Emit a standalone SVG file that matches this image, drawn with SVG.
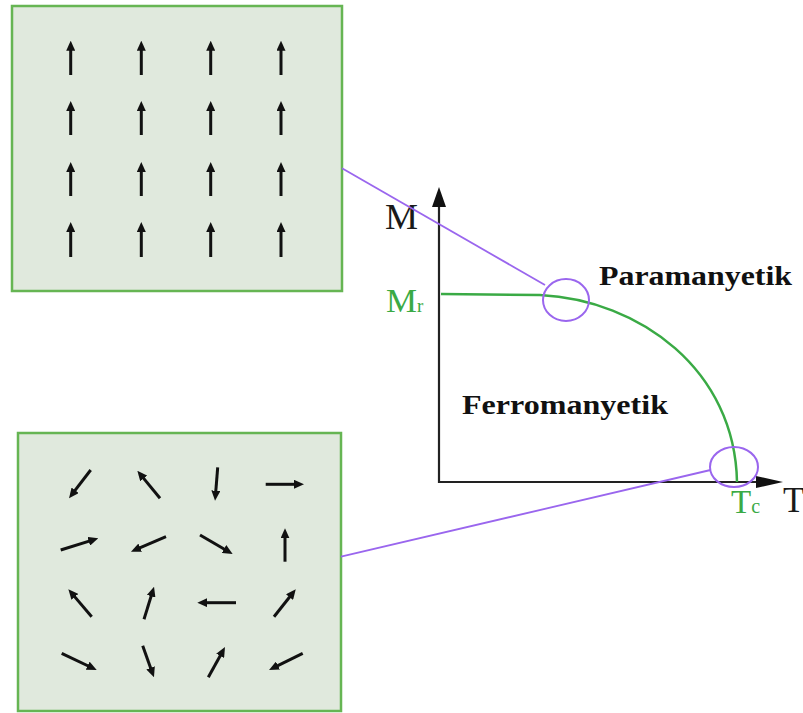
<svg xmlns="http://www.w3.org/2000/svg" width="803" height="713" viewBox="0 0 803 713">
  <style>
    .panel { fill: #e0e9dd; stroke: #66b553; stroke-width: 2.5; }
    .spin { stroke: #111; stroke-width: 3; fill: none; marker-end: url(#spinHead); }
    .axis { stroke: #222; stroke-width: 2.2; fill: none; }
    .axisHead { fill: #111; }
    .link { stroke: #9a66ee; stroke-width: 1.8; fill: none; }
    .ring { stroke: #9a66ee; stroke-width: 2; fill: none; }
    .curve { stroke: #3aaa45; stroke-width: 2.5; fill: none; }
    .axisLabel { font-family: "Liberation Serif", "Times New Roman", serif; font-size: 35px; fill: #1a1a1a; }
    .greenLabel { font-family: "Liberation Serif", "Times New Roman", serif; fill: #3aaa45; }
    .phase { font-family: "Liberation Serif", "Times New Roman", serif; font-weight: bold; font-size: 27px; fill: #111; }
  </style>
  <defs>
    <marker id="spinHead" viewBox="0 0 10 9" markerWidth="10" markerHeight="9" refX="3" refY="4.5" orient="auto" markerUnits="userSpaceOnUse">
      <path d="M0,0 L10,4.5 L0,9 z" fill="#111"/>
    </marker>
  </defs>

  <rect width="803" height="713" fill="#ffffff"/>

  <!-- aligned spins: ferromagnetic state -->
  <g id="ordered-panel">
    <rect class="panel" x="12" y="6" width="330" height="285"/>
    <g>
      <line class="spin" x1="70.7" y1="75" x2="70.7" y2="47.7"/>
      <line class="spin" x1="141.3" y1="75" x2="141.3" y2="47.7"/>
      <line class="spin" x1="210.7" y1="75" x2="210.7" y2="47.7"/>
      <line class="spin" x1="281" y1="75" x2="281" y2="47.7"/>
      <line class="spin" x1="70.7" y1="135" x2="70.7" y2="108"/>
      <line class="spin" x1="141.3" y1="135" x2="141.3" y2="108"/>
      <line class="spin" x1="210.7" y1="135" x2="210.7" y2="108"/>
      <line class="spin" x1="281" y1="135" x2="281" y2="108"/>
      <line class="spin" x1="70.7" y1="196" x2="70.7" y2="169"/>
      <line class="spin" x1="141.3" y1="196" x2="141.3" y2="169"/>
      <line class="spin" x1="210.7" y1="196" x2="210.7" y2="169"/>
      <line class="spin" x1="281" y1="196" x2="281" y2="169"/>
      <line class="spin" x1="70.7" y1="257" x2="70.7" y2="229"/>
      <line class="spin" x1="141.3" y1="257" x2="141.3" y2="229"/>
      <line class="spin" x1="210.7" y1="257" x2="210.7" y2="229"/>
      <line class="spin" x1="281" y1="257" x2="281" y2="229"/>
    </g>
  </g>

  <!-- random spins: paramagnetic state -->
  <g id="disordered-panel">
    <rect class="panel" x="18" y="433" width="323" height="278"/>
    <g>
      <line class="spin" x1="90.7" y1="470" x2="73.3" y2="492.7"/>
      <line class="spin" x1="160" y1="498.3" x2="141.8" y2="476.1"/>
      <line class="spin" x1="217.7" y1="467.3" x2="215.6" y2="493.7"/>
      <line class="spin" x1="265.7" y1="484.3" x2="297" y2="484.3"/>
      <line class="spin" x1="60.7" y1="550" x2="91.6" y2="540.4"/>
      <line class="spin" x1="166" y1="536.7" x2="137.4" y2="548.9"/>
      <line class="spin" x1="200" y1="535" x2="226.6" y2="550.5"/>
      <line class="spin" x1="285" y1="561.7" x2="285" y2="535.3"/>
      <line class="spin" x1="91.7" y1="616.7" x2="72.9" y2="594.6"/>
      <line class="spin" x1="144" y1="619.3" x2="152" y2="593.4"/>
      <line class="spin" x1="236" y1="602.7" x2="204.3" y2="602.7"/>
      <line class="spin" x1="274" y1="616.7" x2="291.4" y2="594.8"/>
      <line class="spin" x1="61.7" y1="653.3" x2="90.4" y2="667"/>
      <line class="spin" x1="142.7" y1="645.7" x2="151.6" y2="670.7"/>
      <line class="spin" x1="208.3" y1="677.3" x2="221.6" y2="653.2"/>
      <line class="spin" x1="302.7" y1="653.3" x2="275.3" y2="666.9"/>
    </g>
  </g>

  <!-- M(T) chart -->
  <g id="chart">
    <line class="axis" x1="439" y1="483" x2="439" y2="206"/>
    <polygon class="axisHead" points="439,187 432,207 446,207"/>
    <line class="axis" x1="438" y1="482" x2="758" y2="482"/>
    <polygon class="axisHead" points="783,482 756,476 756,488"/>
    <text class="axisLabel" x="385" y="229" textLength="33" lengthAdjust="spacingAndGlyphs">M</text>
    <text class="axisLabel" x="783" y="512">T</text>
    <text class="greenLabel" x="386" y="312" font-size="34"><tspan textLength="31" lengthAdjust="spacingAndGlyphs">M</tspan><tspan font-size="19">r</tspan></text>
    <text class="greenLabel" x="731" y="513" font-size="33">T<tspan font-size="20">c</tspan></text>
    <path class="curve" d="M441,294 L540,295 C640,300 735,370 737,482"/>
    <text class="phase" x="599" y="285" textLength="193" lengthAdjust="spacingAndGlyphs">Paramanyetik</text>
    <text class="phase" x="462" y="414" textLength="206" lengthAdjust="spacingAndGlyphs">Ferromanyetik</text>
  </g>

  <g id="marker-ordered">
    <ellipse class="ring" cx="566" cy="300" rx="23" ry="21"/>
  </g>
  <g id="marker-critical">
    <ellipse class="ring" cx="734" cy="467" rx="24" ry="20"/>
  </g>

  <!-- leader lines from the rings to the spin panels -->
  <g id="connectors">
    <line class="link" x1="342" y1="168.3" x2="545" y2="285"/>
    <line class="link" x1="341" y1="556.7" x2="710.5" y2="470"/>
  </g>
</svg>
